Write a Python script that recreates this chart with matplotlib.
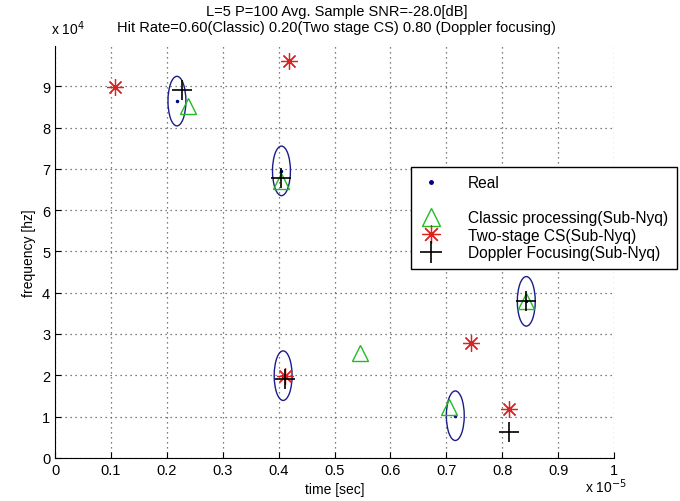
import numpy as np
import matplotlib.pyplot as plt
from matplotlib.patches import Ellipse
from matplotlib.lines import Line2D
from matplotlib.ticker import FuncFormatter

plt.rcParams['font.family'] = ['Liberation Sans', 'DejaVu Sans']

# time in units of 1e-5 sec, frequency in units of 1e4 Hz
real_t = [0.218, 0.405, 0.408, 0.716, 0.843]
real_f = [8.64, 6.95, 1.99, 1.02, 3.79]

classic_t = [0.238, 0.405, 0.545, 0.705, 0.843]
classic_f = [8.52, 6.70, 2.55, 1.22, 3.80]

cs_t = [0.108, 0.419, 0.411, 0.744, 0.812]
cs_f = [8.98, 9.61, 1.98, 2.79, 1.19]

doppler_t = [0.227, 0.404, 0.411, 0.812, 0.843]
doppler_f = [8.90, 6.77, 1.90, 0.63, 3.79]

ell_w = 0.032   # ellipse width (1e-5 sec)
ell_h = 1.2     # ellipse height (1e4 Hz)

TS, FS = 1e-5, 1e4

fig = plt.figure(figsize=(6.8, 5.02), dpi=100)
ax = fig.add_axes([0.081, 0.086, 0.822, 0.82])

for t, f in zip(real_t, real_f):
    ax.add_patch(Ellipse((t * TS, f * FS), ell_w * TS, ell_h * FS, fill=False,
                         edgecolor='#1c1c8a', lw=1.0, zorder=3))

ax.plot(np.array(real_t) * TS, np.array(real_f) * FS, '.', color='#00008b', ms=3, zorder=4)
ax.plot(np.array(classic_t) * TS, np.array(classic_f) * FS, '^', mfc='none', mec='#22bb22',
        ms=12, mew=1.0, zorder=4)
ax.plot(np.array(cs_t) * TS, np.array(cs_f) * FS, ls='none', marker=(8, 2, 0), color='#dd2222',
        ms=12, mew=0.9, zorder=4)
ax.plot(np.array(doppler_t) * TS, np.array(doppler_f) * FS, '+', color='black',
        ms=15, mew=1.2, zorder=5)

ax.set_xlim(0, 1 * TS)
ax.set_ylim(0, 9.97 * FS)
ax.set_xticks(np.arange(0, 11) * 0.1 * TS)
ax.set_yticks(np.arange(0, 10) * FS)
ax.xaxis.set_major_formatter(FuncFormatter(lambda v, p: ('%g' % round(v / TS, 2))))
ax.yaxis.set_major_formatter(FuncFormatter(lambda v, p: ('%g' % round(v / FS, 2))))
ax.tick_params(direction='in', length=4, labelsize=10.5, width=0.8)
ax.spines['top'].set_visible(False)
ax.spines['right'].set_visible(False)
ax.grid(True, ls=(0, (1, 3)), color='#555555', lw=0.9)
ax.set_axisbelow(True)

ax.set_xlabel('time [sec]', fontsize=10)
ax.set_ylabel('frequency [hz]', fontsize=10)
fig.text(0.075, 0.93, r'x 10$^{4}$', fontsize=10)
fig.text(0.86, 0.018, r'x 10$^{-5}$', fontsize=10)
fig.text(0.495, 0.968, 'L=5 P=100 Avg. Sample SNR=-28.0[dB]', ha='center', fontsize=10.5)
fig.text(0.495, 0.936, 'Hit Rate=0.60(Classic) 0.20(Two stage CS) 0.80 (Doppler focusing)',
         ha='center', fontsize=10.5)

handles = [
    Line2D([], [], ls='none', marker='.', color='#00008b', ms=5),
    Line2D([], [], ls='none'),
    Line2D([], [], ls='none', marker='^', mfc='none', mec='#22bb22', ms=13),
    Line2D([], [], ls='none', marker=(8, 2, 0), color='#dd2222', ms=13, mew=0.9),
    Line2D([], [], ls='none', marker='+', color='black', ms=16, mew=1.2),
]
labels = ['Real', ' ', 'Classic processing(Sub-Nyq)', 'Two-stage CS(Sub-Nyq)',
          'Doppler Focusing(Sub-Nyq)']
leg = fig.legend(handles, labels, loc='upper right', bbox_to_anchor=(0.995, 0.666),
                 fontsize=11.2, fancybox=False, edgecolor='black', framealpha=1,
                 handlelength=1.5, handletextpad=1.6, labelspacing=0.16,
                 borderpad=0.55, borderaxespad=0)
leg.get_frame().set_linewidth(1.0)

fig.savefig('out.png', dpi=100)
